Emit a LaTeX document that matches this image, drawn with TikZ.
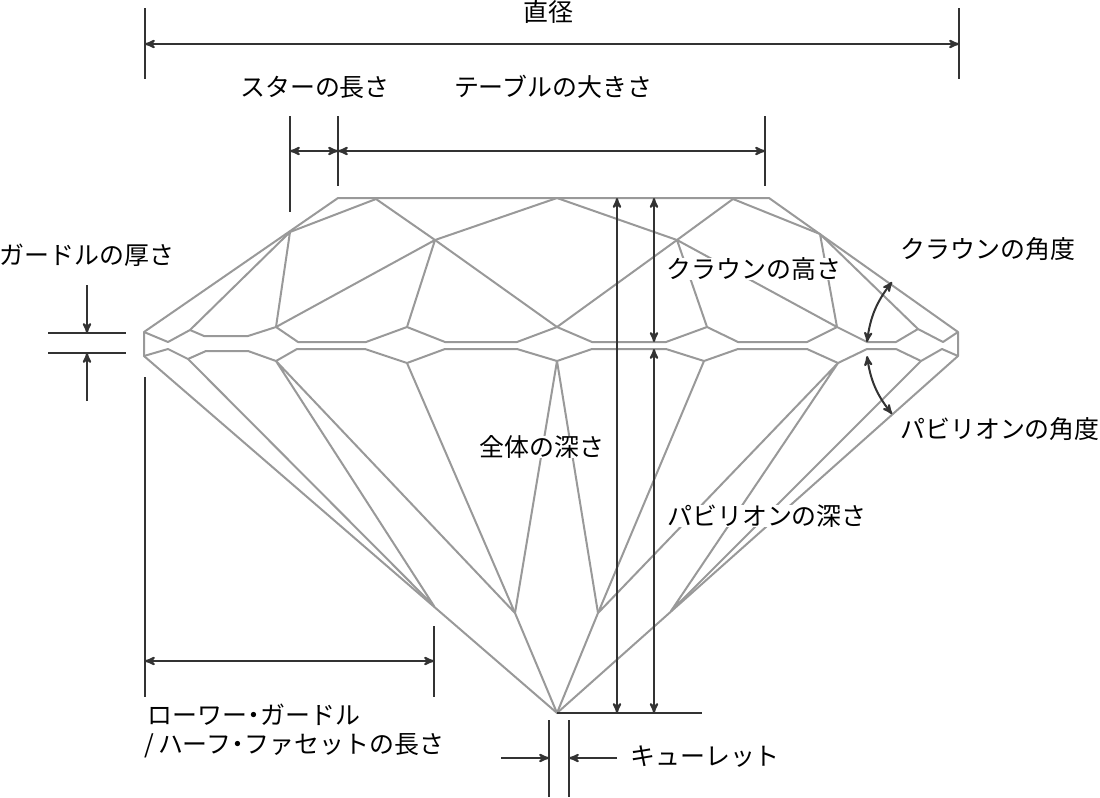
\documentclass[tikz,border=0pt]{standalone}
\usepackage{fontspec}
\setmainfont{Noto Sans CJK JP}
\usetikzlibrary{arrows}
\definecolor{facetgray}{HTML}{999999}
\definecolor{dimdark}{HTML}{333333}
\newcommand{\halfdot}{\hspace{-4.4pt}・\hspace{-4.4pt}}
\begin{document}
\begin{tikzpicture}[x=.75pt,y=-.75pt]
\tikzstyle{every node}=[inner sep=0pt, font=\fontsize{18.7}{22}\selectfont]
\tikzstyle{facet}=[draw=facetgray, line width=1.5pt, line join=round]
\tikzstyle{dimline}=[draw=dimdark, line width=1.5pt]
\tikzstyle{dimarrow}=[dimline, >=stealth', <->]
\tikzstyle{onearrow}=[dimline, >=stealth', ->]
\tikzstyle{overlabel}=[fill=white]
\useasboundingbox (0,0) rectangle (1100,797);
% table and crown
\coordinate (tl) at (338,198);
\coordinate (tr) at (769,198);
\coordinate (s1) at (376,199);
\coordinate (s2) at (557,198);
\coordinate (s3) at (733,199);
\coordinate (k1) at (290,232);
\coordinate (k2) at (435,240);
\coordinate (k3) at (677,240);
\coordinate (k4) at (820,234);
% girdle, upper edge
\coordinate (gl) at (144,332);
\coordinate (a1) at (168,342);
\coordinate (a2) at (190,330);
\coordinate (a3) at (204,336);
\coordinate (a4) at (248,336);
\coordinate (a5) at (276,327);
\coordinate (a6) at (298,342);
\coordinate (a7) at (366,342);
\coordinate (a8) at (407,327);
\coordinate (a9) at (445,342);
\coordinate (a10) at (517,342);
\coordinate (a11) at (557,327);
\coordinate (a12) at (592,342);
\coordinate (a13) at (666,342);
\coordinate (a14) at (707,327);
\coordinate (a15) at (738,342);
\coordinate (a16) at (807,342);
\coordinate (a17) at (837,327);
\coordinate (a18) at (867,342);
\coordinate (a19) at (896,342);
\coordinate (a20) at (918,329);
\coordinate (a21) at (943,342);
\coordinate (gr) at (958,332);
% girdle, lower edge
\coordinate (hl) at (144,356);
\coordinate (b1) at (168,349);
\coordinate (b2) at (188,359);
\coordinate (b3) at (206,351);
\coordinate (b4) at (248,351);
\coordinate (b5) at (276,361);
\coordinate (b6) at (297,349);
\coordinate (b7) at (365,349);
\coordinate (b8) at (407,363);
\coordinate (b9) at (445,349);
\coordinate (b10) at (517,349);
\coordinate (b11) at (557,361);
\coordinate (b12) at (592,349);
\coordinate (b13) at (666,349);
\coordinate (b14) at (704,361);
\coordinate (b15) at (738,349);
\coordinate (b16) at (807,349);
\coordinate (b17) at (838,363);
\coordinate (b18) at (867,349);
\coordinate (b19) at (896,349);
\coordinate (b20) at (921,361);
\coordinate (b21) at (942,349);
\coordinate (hr) at (958,356);
% pavilion
\coordinate (p1) at (434,606);
\coordinate (p2) at (515,613);
\coordinate (p3) at (598,613);
\coordinate (p4) at (671,611);
\coordinate (culet) at (557,713);
\draw[facet] (gl) -- (tl) -- (tr) -- (gr) -- (hr) -- (culet) -- (hl) -- cycle;
\draw[facet] (k1) -- (s1) -- (k2) -- (s2) -- (k3) -- (s3) -- (k4);
\draw[facet] (a2) -- (k1) -- (a5);
\draw[facet] (a5) -- (k2) -- (a8);
\draw[facet] (k2) -- (a11) -- (k3) -- (a14);
\draw[facet] (k3) -- (a17) -- (k4) -- (a20);
\draw[facet] (gl) -- (a1) -- (a2) -- (a3) -- (a4) -- (a5) -- (a6) -- (a7) -- (a8) -- (a9) -- (a10) -- (a11);
\draw[facet] (a11) -- (a12) -- (a13) -- (a14) -- (a15) -- (a16) -- (a17) -- (a18) -- (a19) -- (a20) -- (a21) -- (gr);
\draw[facet] (hl) -- (b1) -- (b2) -- (b3) -- (b4) -- (b5) -- (b6) -- (b7) -- (b8) -- (b9) -- (b10) -- (b11);
\draw[facet] (b11) -- (b12) -- (b13) -- (b14) -- (b15) -- (b16) -- (b17) -- (b18) -- (b19) -- (b20) -- (b21) -- (hr);
\draw[facet] (b2) -- (p1) -- (b5) -- (p2) -- (b8);
\draw[facet] (b11) -- (p2) -- (culet) -- (p3) -- (b11);
\draw[facet] (b14) -- (p3) -- (b17) -- (p4) -- (b20);
% labels that sit on the facets
\node[overlabel] (crownh) at (754,269) {クラウンの高さ};
\node[overlabel] (totald) at (542,447) {全体の深さ};
\node[overlabel] (pavd) at (767,516) {パビリオンの深さ};
% diameter
\coordinate (d1a) at (145,8);
\coordinate (d1b) at (145,79);
\coordinate (d2a) at (959,8);
\coordinate (d2b) at (959,79);
\coordinate (d1) at (145,44);
\coordinate (d2) at (959,44);
\draw[dimline] (d1a) -- (d1b);
\draw[dimline] (d2a) -- (d2b);
\draw[dimarrow] (d1) -- (d2);
\node (diam) at (548,12) {直径};
% star and table
\coordinate (st1a) at (290,116);
\coordinate (st1b) at (290,212);
\coordinate (st2a) at (338,116);
\coordinate (st2b) at (338,186);
\coordinate (st3a) at (765,116);
\coordinate (st3b) at (765,186);
\coordinate (st1) at (290,151);
\coordinate (st2) at (338,151);
\coordinate (st3) at (765,151);
\draw[dimline] (st1a) -- (st1b);
\draw[dimline] (st2a) -- (st2b);
\draw[dimline] (st3a) -- (st3b);
\draw[dimarrow] (st1) -- (st2);
\draw[dimarrow] (st2) -- (st3);
\node (starl) at (315,87) {スターの長さ};
\node (tablew) at (553,87) {テーブルの大きさ};
% depths
\coordinate (v1) at (617,198);
\coordinate (v1b) at (617,713);
\coordinate (v2) at (654,198);
\coordinate (v2m) at (654,342);
\coordinate (v3) at (654,349);
\coordinate (v3b) at (654,713);
\coordinate (base) at (702,713);
\draw[dimarrow] (v1) -- (v1b);
\draw[dimarrow] (v2) -- (v2m);
\draw[dimarrow] (v3) -- (v3b);
\draw[dimline] (culet) -- (base);
% girdle thickness
\coordinate (t1a) at (48,333);
\coordinate (t1b) at (126,333);
\coordinate (t2a) at (48,353);
\coordinate (t2b) at (126,353);
\coordinate (t3a) at (87,285);
\coordinate (t3b) at (87,333);
\coordinate (t4a) at (87,401);
\coordinate (t4b) at (87,353);
\draw[dimline] (t1a) -- (t1b);
\draw[dimline] (t2a) -- (t2b);
\draw[onearrow] (t3a) -- (t3b);
\draw[onearrow] (t4a) -- (t4b);
\node (girdle) at (87,255) {ガードルの厚さ};
% lower girdle half
\coordinate (w1a) at (145,377);
\coordinate (w1b) at (145,697);
\coordinate (w2a) at (434,626);
\coordinate (w2b) at (434,697);
\coordinate (w1) at (145,661);
\coordinate (w2) at (434,661);
\draw[dimline] (w1a) -- (w1b);
\draw[dimline] (w2a) -- (w2b);
\draw[dimarrow] (w1) -- (w2);
\node[anchor=west] (lower1) at (147,715) {ローワー\halfdot ガードル};
\node[anchor=west] (lower2) at (144,746) {/\hspace{3pt}ハーフ\halfdot ファセットの長さ};
% culet
\coordinate (c1a) at (549,720);
\coordinate (c1b) at (549,797);
\coordinate (c2a) at (569,720);
\coordinate (c2b) at (569,797);
\coordinate (c3a) at (501,758);
\coordinate (c3b) at (549,758);
\coordinate (c4a) at (617,758);
\coordinate (c4b) at (569,758);
\draw[dimline] (c1a) -- (c1b);
\draw[dimline] (c2a) -- (c2b);
\draw[onearrow] (c3a) -- (c3b);
\draw[onearrow] (c4a) -- (c4b);
\node[anchor=west] (culetl) at (630,757) {キューレット};
% angles
\coordinate (x1a) at (867,342);
\coordinate (x1b) at (892,282);
\coordinate (x2a) at (867,356);
\coordinate (x2b) at (892,414);
\draw[dimarrow] (x1a) to[bend left=15] (x1b);
\draw[dimarrow] (x2a) to[bend right=15] (x2b);
\node (crowna) at (988,249) {クラウンの角度};
\node (pava) at (1000,429) {パビリオンの角度};
\end{tikzpicture}
\end{document}
